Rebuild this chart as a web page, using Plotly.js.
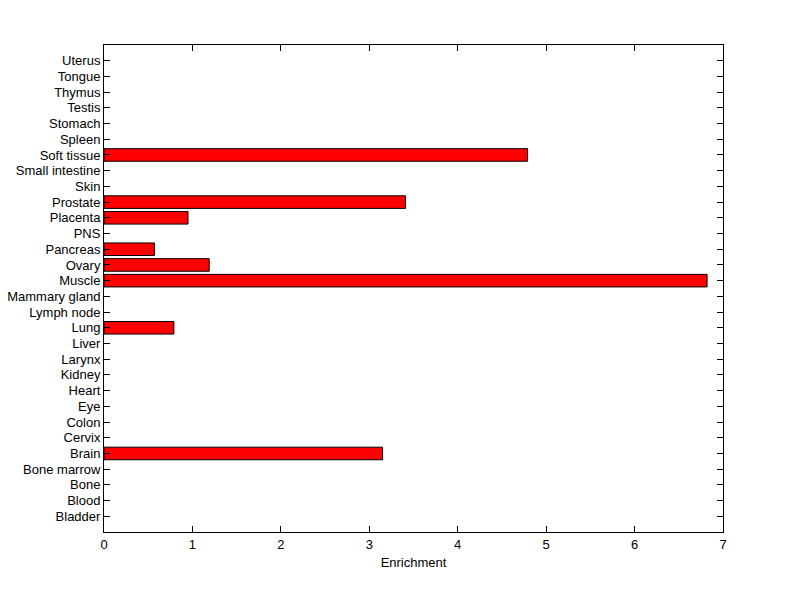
<!DOCTYPE html>
<html>
<head>
<meta charset="utf-8">
<script src="https://cdn.plot.ly/plotly-3.0.1.min.js"></script>
<style>html,body{margin:0;padding:0;background:#fff;}#chart{width:800px;height:599px;}</style>
</head>
<body>
<div id="chart"></div>
<script>
const tissues = ["Bladder","Blood","Bone","Bone marrow","Brain","Cervix","Colon","Eye","Heart","Kidney","Larynx","Liver","Lung","Lymph node","Mammary gland","Muscle","Ovary","Pancreas","PNS","Placenta","Prostate","Skin","Small intestine","Soft tissue","Spleen","Stomach","Testis","Thymus","Tongue","Uterus"];
const enrichment = [0,0,0,0,3.15,0,0,0,0,0,0,0,0.79,0,0,6.82,1.19,0.57,0,0.95,3.41,0,0,4.79,0,0,0,0,0,0];
const xTicks = [0,1,2,3,4,5,6,7];

const trace = {
  type: 'bar',
  orientation: 'h',
  y: tissues.map((_, i) => i),
  x: enrichment.map(v => v === 0 ? null : v),
  width: 0.8,
  marker: {color: '#ff0000', line: {color: '#000000', width: 1}},
  hoverinfo: 'none'
};

const font = {family: 'Liberation Sans, Arial, sans-serif', size: 13, color: '#000'};
const layout = {
  width: 800, height: 599,
  margin: {l: 104, r: 77, t: 45, b: 67, pad: 0},
  paper_bgcolor: '#fff', plot_bgcolor: '#fff',
  showlegend: false,
  font: font,
  xaxis: {
    range: [0, 7], tickvals: xTicks, ticktext: xTicks.map(String),
    ticks: 'inside', ticklen: 6, tickcolor: '#000', tickwidth: 1,
    showline: true, linecolor: '#000', linewidth: 1, mirror: 'ticks',
    showgrid: false, zeroline: false,
    tickfont: font,
    title: {text: 'Enrichment', font: font, standoff: 7}
  },
  yaxis: {
    range: [-1, tissues.length],
    tickvals: tissues.map((_, i) => i), ticktext: tissues,
    ticks: 'inside', ticklen: 6, tickcolor: '#000', tickwidth: 1,
    showline: true, linecolor: '#000', linewidth: 1, mirror: 'ticks',
    showgrid: false, zeroline: false,
    tickfont: font
  }
};
Plotly.newPlot('chart', [trace], layout, {staticPlot: true, displayModeBar: false});
</script>
</body>
</html>
